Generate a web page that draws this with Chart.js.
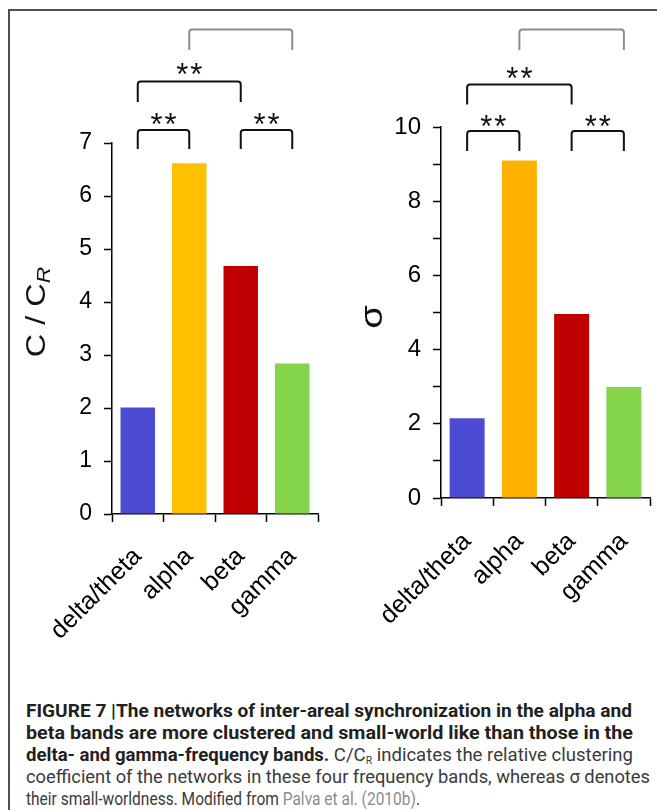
<!DOCTYPE html>
<html><head><meta charset="utf-8">
<script src="https://cdn.jsdelivr.net/npm/chart.js@4.4.0/dist/chart.umd.min.js"></script>
<style>
html,body{margin:0;padding:0;background:#fff;width:657px;height:810px;overflow:hidden;position:relative}
#frameTop{position:absolute;left:8px;top:9px;width:649px;height:2px;background:#505050}
#frameLeft{position:absolute;left:8px;top:9px;width:2px;height:801px;background:#505050}
canvas{position:absolute;top:0}
#c1{left:0}
#c2{left:330px}
.cap{position:absolute;left:26px;white-space:nowrap;font-family:Roboto,"Liberation Sans",sans-serif;font-size:18px;line-height:22px;transform-origin:0 50%;color:#3a3a3a}
.cap b{color:#231f20}
.cap sub{font-size:10px;vertical-align:-3px;line-height:0}
.ref{color:#8c8c8c}
</style></head>
<body>
<div id="frameTop"></div><div id="frameLeft"></div>
<canvas id="c1" width="330" height="660"></canvas>
<canvas id="c2" width="327" height="660"></canvas>
<div class="cap" id="l1" style="top:700px"><b>FIGURE 7 |The networks of inter-areal synchronization in the alpha and</b></div>
<div class="cap" id="l2" style="top:722px"><b>beta bands are more clustered and small-world like than those in the</b></div>
<div class="cap" id="l3" style="top:744px"><b>delta- and gamma-frequency bands.</b> C/C<sub>R</sub> indicates the relative clustering</div>
<div class="cap" id="l4" style="top:766px">coefficient of the networks in these four frequency bands, whereas σ denotes</div>
<div class="cap" id="l5" style="top:788px">their small-worldness. Modified from <span class="ref">Palva et al. (2010b)</span>.</div>
<script>
// ---- data ----
const categories = ['delta/theta', 'alpha', 'beta', 'gamma'];
const clusteringValues = [2.01, 6.62, 4.68, 2.84];   // C / C_R
const smallWorldValues = [2.15, 9.10, 4.96, 2.99];   // sigma
const clusteringTickLabels = [0, 1, 2, 3, 4, 5, 6, 7];
const sigmaTickLabels = [0, 2, 4, 6, 8, 10];
const sigPairs = [[0, 1], [2, 3], [0, 2], [1, 3]];
const sigLabels = ['**', '**', '**', ''];

// ---- styles ----
const barColorsLeft = ['#4b4bd3', '#ffc000', '#c00000', '#84d44c'];
const barColorsRight = ['#4b4bd3', '#ffb300', '#c00000', '#84d44c'];
const FONT = '"Liberation Sans", Arial, sans-serif';

function bracketPlugin(levels) {
  return {
    id: 'brackets',
    afterDraw(chart) {
      const ctx = chart.ctx, xs = chart.scales.x;
      ctx.save();
      sigPairs.forEach((p, i) => {
        const lv = levels[i];
        const x1 = xs.getPixelForValue(p[0]), x2 = xs.getPixelForValue(p[1]);
        const r = 3;
        ctx.beginPath();
        ctx.strokeStyle = lv.color; ctx.lineWidth = 2;
        ctx.moveTo(x1, lv.bottom);
        ctx.lineTo(x1, lv.top + r);
        ctx.arcTo(x1, lv.top, x1 + r, lv.top, r);
        ctx.lineTo(x2 - r, lv.top);
        ctx.arcTo(x2, lv.top, x2, lv.top + r, r);
        ctx.lineTo(x2, lv.bottom);
        ctx.stroke();
        if (sigLabels[i]) {
          ctx.fillStyle = '#111';
          ctx.font = '31px ' + FONT;
          ctx.letterSpacing = '2px';
          ctx.textAlign = 'center'; ctx.textBaseline = 'alphabetic';
          ctx.fillText(sigLabels[i], (x1 + x2) / 2 + 1, lv.labelY + 31 * 0.56);
          ctx.letterSpacing = '0px';
        }
      });
      ctx.restore();
    }
  };
}

function titlePlugin(draw) {
  return { id: 'ytitle', afterDraw(chart) { const ctx = chart.ctx; ctx.save(); draw(ctx); ctx.restore(); } };
}

function makeChart(id, values, colors, opt) {
  return new Chart(document.getElementById(id), {
    type: 'bar',
    data: { labels: categories, datasets: [{ data: values, backgroundColor: colors, borderWidth: 0, barPercentage: 0.67, categoryPercentage: 1 }] },
    options: {
      responsive: false, animation: false, devicePixelRatio: 1,
      layout: { padding: { top: opt.top, right: opt.right, left: 0, bottom: 0 } },
      plugins: { legend: { display: false }, tooltip: { enabled: false } },
      scales: {
        x: {
          offset: true,
          grid: { offset: true, drawOnChartArea: false, drawTicks: true, tickLength: 8, tickWidth: 1.5, tickColor: '#000' },
          border: { display: true, color: '#000', width: 1.5 },
          ticks: { maxRotation: 45, minRotation: 45, padding: opt.xpad, color: '#000', font: { family: FONT, size: 25 } },
          afterFit: s => { s.height = opt.xh; s.paddingLeft = 0; s.paddingRight = 0; }
        },
        y: {
          min: 0, max: opt.max,
          grid: { drawOnChartArea: false, drawTicks: true, tickLength: 8, tickWidth: 1.5, tickColor: '#000' },
          border: { display: true, color: '#000', width: 1.5 },
          ticks: { stepSize: 1, padding: 12, color: '#000', font: { family: FONT, size: opt.yfont }, callback: opt.cb },
          afterFit: s => { s.width = opt.yw; s.paddingTop = 0; s.paddingBottom = 0; }
        }
      }
    },
    plugins: [bracketPlugin(opt.levels), titlePlugin(opt.title)]
  });
}

makeChart('c1', clusteringValues, barColorsLeft, {
  top: 143, right: 12, xh: 146, yw: 112, max: 7, yfont: 23, xpad: 20,
  cb: v => clusteringTickLabels.includes(v) ? String(v) : '',
  levels: [
    { top: 130, bottom: 149, labelY: 118, color: '#111' },
    { top: 130, bottom: 149, labelY: 118, color: '#111' },
    { top: 81.5, bottom: 102, labelY: 68, color: '#111' },
    { top: 29.5, bottom: 50, labelY: 0, color: '#8c8c8c' }
  ],
  title: ctx => {
    ctx.translate(45, 312);
    ctx.rotate(-Math.PI / 2);
    ctx.scale(1.2, 1);
    ctx.fillStyle = '#111';
    const main = 'C / C';
    ctx.font = '27px ' + FONT; const w1 = ctx.measureText(main).width;
    ctx.font = 'italic 19px ' + FONT; const w2 = ctx.measureText('R').width;
    const x0 = -(w1 + w2) / 2;
    ctx.textBaseline = 'alphabetic'; ctx.textAlign = 'left';
    ctx.font = '27px ' + FONT; ctx.fillText(main, x0, 0);
    ctx.font = 'italic 19px ' + FONT; ctx.fillText('R', x0 + w1, 5);
  }
});

makeChart('c2', smallWorldValues, barColorsRight, {
  top: 127, right: 7, xh: 162, yw: 111, max: 10, yfont: 24, xpad: 21,
  cb: v => sigmaTickLabels.includes(v) ? String(v) : '',
  levels: [
    { top: 131, bottom: 151, labelY: 120, color: '#111' },
    { top: 131, bottom: 151, labelY: 120, color: '#111' },
    { top: 84.5, bottom: 104.5, labelY: 72, color: '#111' },
    { top: 29.5, bottom: 50, labelY: 0, color: '#8c8c8c' }
  ],
  title: ctx => {
    ctx.translate(43, 317);
    ctx.rotate(-Math.PI / 2);
    ctx.scale(1.2, 1);
    ctx.fillStyle = '#111';
    ctx.font = '32px ' + FONT;
    ctx.textAlign = 'center'; ctx.textBaseline = 'middle';
    ctx.fillText('σ', 0, 0);
  }
});

// fit caption lines to reference widths
const capWidths = { l1: 606, l2: 607, l3: 607, l4: 624, l5: 394 };
Object.keys(capWidths).forEach(id => {
  const el = document.getElementById(id);
  const w = el.getBoundingClientRect().width;
  el.style.transform = 'scaleX(' + (capWidths[id] / w) + ')';
});
</script>
</body></html>
